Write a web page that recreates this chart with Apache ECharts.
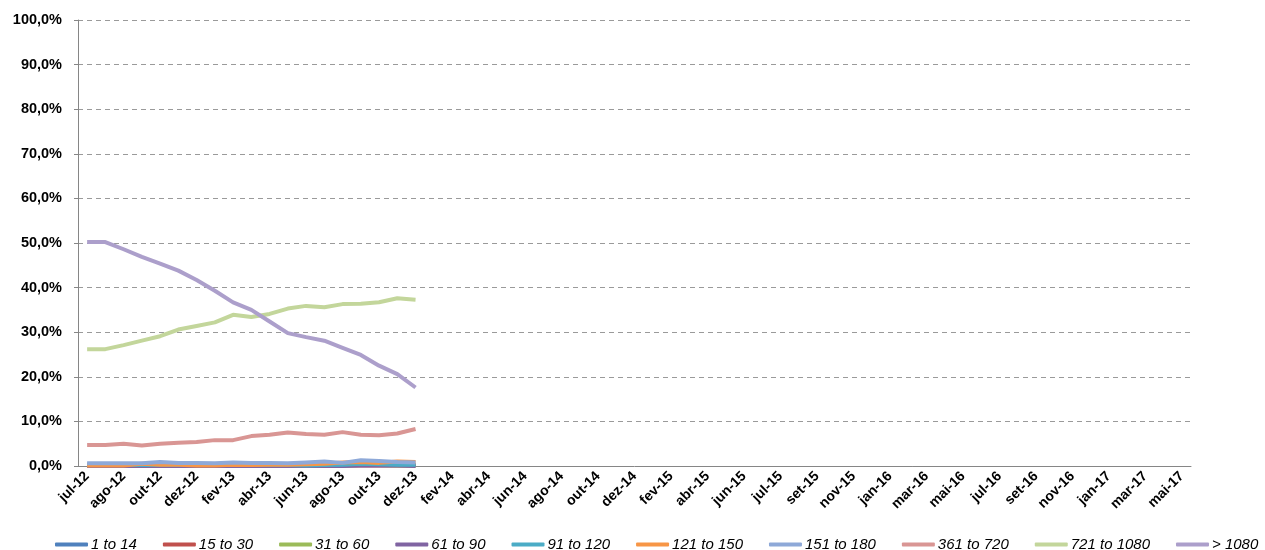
<!DOCTYPE html>
<html>
<head>
<meta charset="utf-8">
<script src="https://cdn.jsdelivr.net/npm/echarts@6/dist/echarts.min.js"></script>
<style>
  html, body { margin: 0; padding: 0; background: #fff; }
  #chart { width: 1265px; height: 550px; }
</style>
</head>
<body>
<div id="chart"></div>
<script>
// categorias (rótulos mensais, um em cada dois aparece)
var months = [
  'jul-12', 'jul-12', 'ago-12', 'set-12', 'out-12', 'nov-12', 'dez-12', 'jan-13', 'fev-13', 'mar-13',
  'abr-13', 'mai-13', 'jun-13', 'jul-13', 'ago-13', 'set-13', 'out-13', 'nov-13', 'dez-13', 'jan-14',
  'fev-14', 'mar-14', 'abr-14', 'mai-14', 'jun-14', 'jul-14', 'ago-14', 'set-14', 'out-14', 'nov-14',
  'dez-14', 'jan-15', 'fev-15', 'mar-15', 'abr-15', 'mai-15', 'jun-15', 'jun-15', 'jul-15', 'ago-15',
  'set-15', 'out-15', 'nov-15', 'dez-15', 'jan-16', 'fev-16', 'mar-16', 'abr-16', 'mai-16', 'jun-16',
  'jul-16', 'ago-16', 'set-16', 'out-16', 'nov-16', 'dez-16', 'jan-17', 'fev-17', 'mar-17', 'abr-17',
  'mai-17'
];

// faixas (nomes da legenda)
var bands = ['1 to 14', '15 to 30', '31 to 60', '61 to 90', '91 to 120', '121 to 150',
  '151 to 180', '361 to 720', '721 to 1080', '> 1080'];

// valores em % (jul-12 .. dez-13)
var d1to14    = [0.3, 0.3, 0.3, 0.3, 0.3, 0.3, 0.3, 0.3, 0.3, 0.3, 0.3, 0.3, 0.3, 0.3, 0.3, 0.3, 0.3, 0.2, 0.2];
var d15to30   = [0.1, 0.1, 0.1, 0.1, 0.1, 0.1, 0.1, 0.1, 0.1, 0.1, 0.1, 0.1, 0.1, 0.1, 0.1, 0.1, 0.1, 0.1, 0.1];
var d31to60   = [0.1, 0.1, 0.1, 0.1, 0.1, 0.1, 0.1, 0.1, 0.1, 0.1, 0.1, 0.1, 0.1, 0.1, 0.1, 0.2, 0.2, 0.1, 0.1];
var d61to90   = [0.0, 0.0, 0.0, 0.0, 0.0, 0.0, 0.0, 0.0, 0.0, 0.0, 0.0, 0.0, 0.0, 0.0, 0.0, 0.1, 0.1, 0.1, 0.0];
var d91to120  = [0.2, 0.2, 0.2, 0.2, 0.2, 0.2, 0.2, 0.2, 0.2, 0.2, 0.2, 0.2, 0.1, 0.2, 0.3, 0.5, 0.4, 0.3, 0.3];
var d121to150 = [0.1, 0.1, 0.1, 0.5, 0.3, 0.3, 0.1, 0.1, 0.3, 0.2, 0.3, 0.3, 0.4, 0.5, 0.8, 0.9, 0.7, 1.0, 0.9];
var d151to180 = [0.6, 0.6, 0.6, 0.6, 0.9, 0.7, 0.7, 0.6, 0.8, 0.7, 0.7, 0.6, 0.8, 1.0, 0.7, 1.3, 1.1, 0.9, 0.8];
var d361to720 = [4.7, 4.7, 5.0, 4.6, 5.0, 5.2, 5.4, 5.8, 5.8, 6.7, 7.0, 7.5, 7.2, 7.0, 7.6, 7.0, 6.9, 7.3, 8.3];
var d721to1080 = [26.2, 26.2, 27.1, 28.1, 29.1, 30.6, 31.4, 32.2, 33.9, 33.4, 34.1, 35.3, 35.9, 35.6, 36.3, 36.4, 36.7, 37.6, 37.3];
var dOver1080 = [50.2, 50.2, 48.6, 46.9, 45.4, 43.8, 41.7, 39.3, 36.7, 35.0, 32.4, 29.8, 28.9, 28.1, 26.5, 24.9, 22.5, 20.6, 17.6];

var yTicks = [0, 100, 10]; // min, max, passo

var allData = [d1to14, d15to30, d31to60, d61to90, d91to120, d121to150, d151to180, d361to720, d721to1080, dOver1080];
var colors = ['#4F81BD', '#C0504D', '#9BBB59', '#8064A2', '#4BACC6', '#F79646',
  '#8EA9D8', '#D99694', '#C3D69B', '#AC9FCB'];

var chart = echarts.init(document.getElementById('chart'));

var series = [];
for (var i = 0; i < bands.length; i++) {
  series.push({
    name: bands[i],
    type: 'line',
    symbol: 'none',
    data: allData[i],
    lineStyle: { width: 4, color: colors[i] },
    itemStyle: { color: colors[i] }
  });
}

chart.setOption({
  animation: false,
  color: colors,
  textStyle: { fontFamily: 'Liberation Sans' },
  grid: { left: 78, right: 74, top: 20, bottom: 84 },
  legend: {
    top: 532,
    left: 50,
    icon: 'roundRect',
    itemWidth: 33,
    itemHeight: 4,
    itemGap: 26,
    textStyle: { fontSize: 15, fontStyle: 'italic', color: '#000', fontFamily: 'Liberation Sans', padding: [0, 0, 0, -2] },
    data: bands
  },
  xAxis: {
    type: 'category',
    data: months,
    boundaryGap: true,
    axisLine: { lineStyle: { color: '#868686', width: 1 } },
    axisTick: { interval: 0, length: 5, lineStyle: { color: '#868686' } },
    axisLabel: {
      interval: 1,
      rotate: 45,
      fontSize: 14,
      fontWeight: 'bold',
      color: '#000',
      margin: 8
    },
    splitLine: { show: false }
  },
  yAxis: {
    type: 'value',
    min: yTicks[0],
    max: yTicks[1],
    interval: yTicks[2],
    axisLine: { show: true, lineStyle: { color: '#868686' } },
    axisTick: { show: true, length: 4, lineStyle: { color: '#868686' } },
    axisLabel: {
      fontSize: 14.5,
      fontWeight: 'bold',
      color: '#000',
      margin: 16,
      formatter: function (v) { return v.toFixed(1).replace('.', ',') + '%'; }
    },
    splitLine: { lineStyle: { color: '#9a9a9a', type: [5, 4], width: 1 } }
  },
  series: series
});
</script>
</body>
</html>
